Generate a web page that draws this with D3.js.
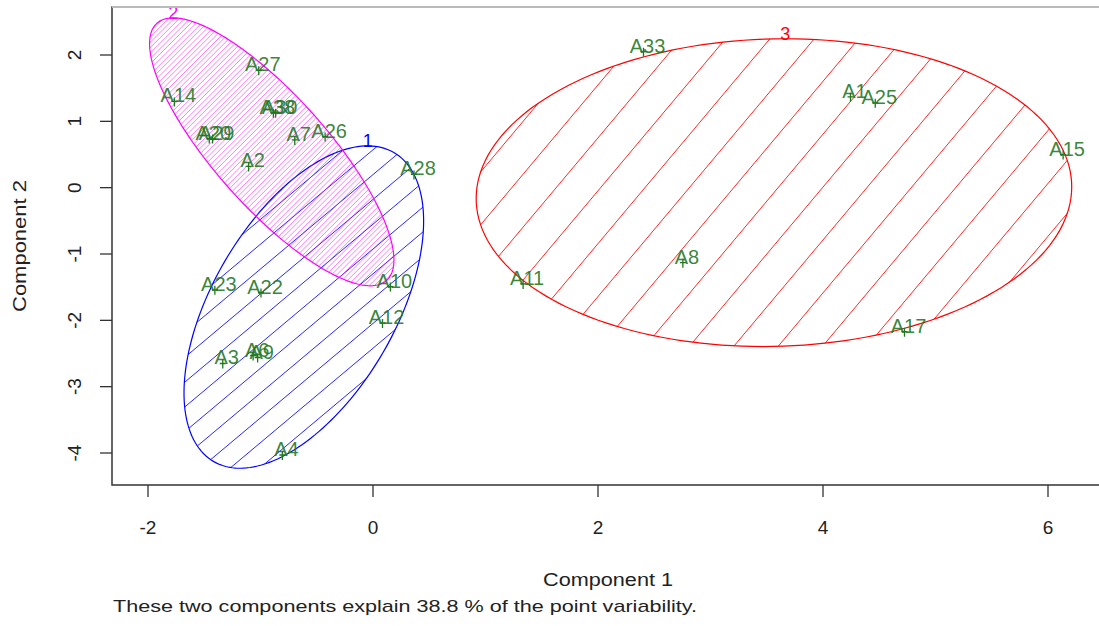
<!DOCTYPE html>
<html>
<head>
<meta charset="utf-8">
<script src="https://cdn.jsdelivr.net/npm/d3@7"></script>
<style>
  body { margin: 0; background: #fff; }
  text { font-family: "Liberation Sans", Arial, sans-serif; }
</style>
</head>
<body>
<svg id="chart" width="1099" height="626"></svg>
<script>
// points: name, component 1, component 2, cluster
const pointNames = ['A27', 'A14', 'A38', 'A30', 'A20', 'A29', 'A7', 'A26', 'A2',
    'A28', 'A23', 'A22', 'A10', 'A12', 'A3', 'A6', 'A9', 'A4',
    'A33', 'A1', 'A25', 'A15', 'A8', 'A11', 'A17']
const comp1 = [-0.98, -1.73, -0.85, -0.83, -1.42, -1.39, -0.66, -0.39, -1.07,
    0.40, -1.37, -0.96, 0.19, 0.12, -1.30, -1.03, -0.99, -0.77,
    2.44, 4.28, 4.50, 6.17, 2.79, 1.37, 4.76]
const comp2 = [1.86, 1.39, 1.22, 1.22, 0.83, 0.83, 0.81, 0.86, 0.41,
    0.29, -1.45, -1.49, -1.40, -1.95, -2.56, -2.44, -2.47, -3.94,
    2.14, 1.46, 1.37, 0.59, -1.04, -1.36, -2.08]
const pointCluster = [2, 2, 2, 2, 2, 2, 2, 2, 2,
    1, 1, 1, 1, 1, 1, 1, 1, 1,
    3, 3, 3, 3, 3, 3, 3]

// spanning ellipses: centre and two conjugate semi-axes, in component units
const clusterIds = [1, 2, 3]
const ellCx = [-0.615, -0.900, 3.564]
const ellCy = [-1.800, 0.540, -0.075]
const ellA = [[0.800, 2.330], [1.020, -1.940], [2.645, 0]]
const ellB = [[0.703, -0.689], [-0.373, -0.560], [0.10, 2.32]]

const xTicks = [-2, 0, 2, 4, 6]
const yTicks = [-4, -3, -2, -1, 0, 1, 2]

const xTitle = 'Component 1'
const yTitle = 'Component 2'
const note = 'These two components explain 38.8 % of the point variability.'

// styling
const clusterColor = { 1: '#0000ff', 2: '#ff00ff', 3: '#ff0000' }
const hatch = {
    1: { angle: 40, gap: 19, width: 1, opacity: 0.85 },
    2: { angle: 45, gap: 3.8, width: 0.7, opacity: 0.75 },
    3: { angle: 50, gap: 34, width: 1, opacity: 0.85 }
}
const txtColor = '#1f771f'

const svg = d3.select('#chart')
const frame = { left: 112, top: 7, bottom: 485, right: 1110 }

const x = d3.scaleLinear().domain([-2, 6]).range([148, 1048])
const y = d3.scaleLinear().domain([-4, 2]).range([453, 55])

const defs = svg.append('defs')
const plot = svg.append('g')

const ellipsePts = i => {
    const cx = x(ellCx[i]), cy = y(ellCy[i])
    const ux = x(ellCx[i] + ellA[i][0]) - cx, uy = y(ellCy[i] + ellA[i][1]) - cy
    const vx = x(ellCx[i] + ellB[i][0]) - cx, vy = y(ellCy[i] + ellB[i][1]) - cy
    return { cx, cy, ux, uy, vx, vy }
}

clusterIds.forEach((id, i) => {
    const e = ellipsePts(i)
    const pts = d3.range(0, 361, 2).map(a => {
        const t = a * Math.PI / 180
        return [e.cx + e.ux * Math.cos(t) + e.vx * Math.sin(t), e.cy + e.uy * Math.cos(t) + e.vy * Math.sin(t)]
    })
    const line = d3.line()
    defs.append('clipPath').attr('id', 'clip' + id)
        .append('path').attr('d', line(pts) + 'Z')

    // shading lines
    const h = hatch[id]
    const al = h.angle * Math.PI / 180
    const dx = Math.cos(al), dy = -Math.sin(al)
    const nx = Math.sin(al), ny = Math.cos(al)
    const R = Math.hypot(e.ux, e.uy) + Math.hypot(e.vx, e.vy)
    const K = Math.ceil(R / h.gap)
    const g = plot.append('g').attr('clip-path', 'url(#clip' + id + ')')
    g.selectAll('line')
        .data(d3.range(-K, K + 1))
        .enter().append('line')
        .attr('x1', k => e.cx + nx * k * h.gap - dx * R)
        .attr('y1', k => e.cy + ny * k * h.gap - dy * R)
        .attr('x2', k => e.cx + nx * k * h.gap + dx * R)
        .attr('y2', k => e.cy + ny * k * h.gap + dy * R)
        .attr('stroke', clusterColor[id])
        .attr('stroke-width', h.width)
        .attr('stroke-opacity', h.opacity)

    plot.append('path')
        .attr('d', line(pts) + 'Z')
        .attr('fill', 'none')
        .attr('stroke', clusterColor[id])
        .attr('stroke-width', 1.2)

    // cluster number at the top of its ellipse
    const r = Math.hypot(e.uy, e.vy)
    const tx = e.cx - (e.ux * e.uy + e.vx * e.vy) / r
    plot.append('text')
        .attr('x', tx).attr('y', e.cy - r + 1)
        .attr('text-anchor', 'middle')
        .attr('font-size', 18)
        .attr('fill', clusterColor[id])
        .text(id)
})

// points and labels
const pts = pointNames.map((n, i) => ({ name: n, c1: comp1[i], c2: comp2[i], cl: pointCluster[i] }))

plot.selectAll('path.mark')
    .data(pts)
    .enter().append('path')
    .attr('class', 'mark')
    .attr('d', d => {
        const px = x(d.c1) - 4, py = y(d.c2) + 6
        return `M${px - 3},${py}H${px + 3}M${px},${py - 4}V${py + 5}`
    })
    .attr('stroke', txtColor)
    .attr('stroke-width', 1.3)

plot.selectAll('text.lab')
    .data(pts)
    .enter().append('text')
    .attr('class', 'lab')
    .attr('x', d => x(d.c1))
    .attr('y', d => y(d.c2))
    .attr('dy', '0.35em')
    .attr('text-anchor', 'middle')
    .attr('font-size', 20)
    .attr('fill', txtColor)
    .attr('fill-opacity', 0.9)
    .text(d => d.name)

// frame
svg.append('path')
    .attr('d', `M${frame.right},${frame.top}H${frame.left}V${frame.bottom}H${frame.right}`)
    .attr('fill', 'none').attr('stroke', '#333').attr('stroke-width', 1.5)
svg.append('line')
    .attr('x1', frame.left).attr('x2', frame.right)
    .attr('y1', frame.top).attr('y2', frame.top)
    .attr('stroke', '#bbb').attr('stroke-width', 2)

// x axis
const xa = svg.append('g')
xa.selectAll('line').data(xTicks).enter().append('line')
    .attr('x1', d => x(d)).attr('x2', d => x(d))
    .attr('y1', frame.bottom).attr('y2', frame.bottom + 12)
    .attr('stroke', '#333').attr('stroke-width', 1.3)
xa.selectAll('text').data(xTicks).enter().append('text')
    .attr('x', d => x(d)).attr('y', 534)
    .attr('text-anchor', 'middle').attr('font-size', 19).attr('fill', '#222')
    .text(d => d)

// y axis
const ya = svg.append('g')
ya.selectAll('line').data(yTicks).enter().append('line')
    .attr('y1', d => y(d)).attr('y2', d => y(d))
    .attr('x1', frame.left - 12).attr('x2', frame.left)
    .attr('stroke', '#333').attr('stroke-width', 1.3)
ya.selectAll('text').data(yTicks).enter().append('text')
    .attr('transform', d => `translate(81,${y(d)}) rotate(-90)`)
    .attr('text-anchor', 'middle').attr('font-size', 19).attr('fill', '#222')
    .text(d => d)

svg.append('text')
    .attr('x', 608).attr('y', 586)
    .attr('text-anchor', 'middle').attr('font-size', 18).attr('fill', '#222')
    .attr('textLength', 130).attr('lengthAdjust', 'spacingAndGlyphs')
    .text(xTitle)

svg.append('text')
    .attr('transform', 'translate(26,246) rotate(-90)')
    .attr('text-anchor', 'middle').attr('font-size', 18).attr('fill', '#222')
    .attr('textLength', 132).attr('lengthAdjust', 'spacingAndGlyphs')
    .text(yTitle)

svg.append('text')
    .attr('x', 113).attr('y', 612)
    .attr('font-size', 17).attr('fill', '#222')
    .attr('textLength', 584).attr('lengthAdjust', 'spacingAndGlyphs')
    .text(note)
</script>
</body>
</html>
